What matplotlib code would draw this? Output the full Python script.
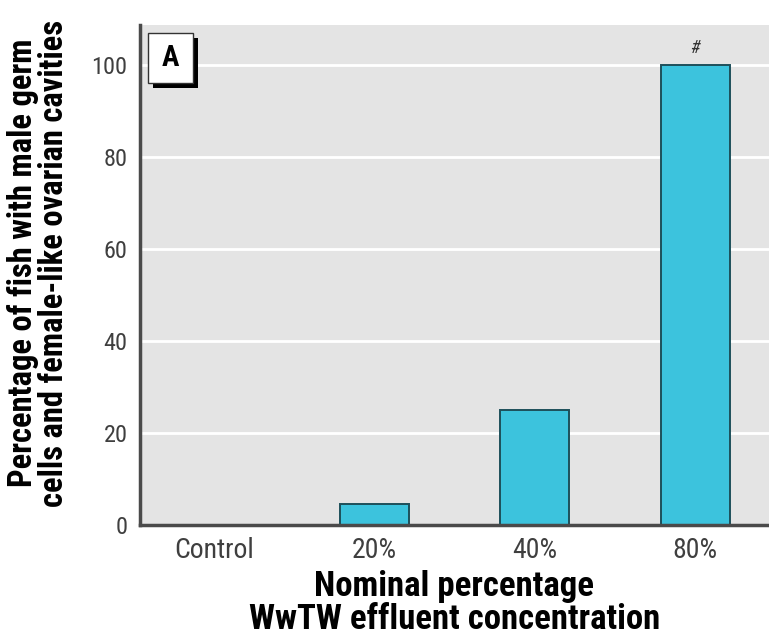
import matplotlib
matplotlib.use("Agg")
import matplotlib.pyplot as plt
from matplotlib.patches import Rectangle

groups = ["Control", "20%", "40%", "80%"]
percent_fish = [0, 4.5, 25, 100]
yticks = [0, 20, 40, 60, 80, 100]

plt.rcParams['font.family'] = ['Roboto Condensed', 'DejaVu Sans']

fig = plt.figure(figsize=(7.69, 6.4), dpi=100)
ax = fig.add_axes([0.182, 0.1797, 0.818, 0.781])
ax.set_facecolor("#e4e4e4")

x = list(range(len(groups)))
ax.bar(x, percent_fish, width=0.43, color="#3cc3dd", edgecolor="#1d4f5a",
       linewidth=1.4, zorder=2)

# significance mark over the highest dose
ax.text(3, percent_fish[3] + 1.8, "#", ha="center", va="bottom", fontsize=13,
        color="#333333", style="italic", zorder=4)

ax.set_xlim(-0.46, 3.46)
ax.set_ylim(0, 108.7)
ax.set_yticks(yticks)
ax.set_xticks(x)
ax.set_xticklabels(groups)
ax.tick_params(axis="both", length=0, labelcolor="#3f3f3f")
ax.tick_params(axis="x", pad=9, labelsize=20)
ax.tick_params(axis="y", pad=9, labelsize=17.5)
ax.yaxis.grid(True, color="white", linewidth=2, zorder=1)
ax.set_axisbelow(True)

for side in ["top", "right"]:
    ax.spines[side].set_visible(False)
for side in ["left", "bottom"]:
    ax.spines[side].set_color("#4a4a4a")
    ax.spines[side].set_linewidth(2.5)
    ax.spines[side].set_zorder(3)

ax.set_ylabel("Percentage of fish with male germ\ncells and female-like ovarian cavities",
              fontsize=23.5, fontweight="bold", linespacing=0.95)
ax.yaxis.set_label_coords(-0.112, 0.524)
ax.set_xlabel("Nominal percentage\nWwTW effluent concentration",
              fontsize=25, fontweight="bold", linespacing=0.98, labelpad=4)

# panel letter with drop shadow
ax.add_patch(Rectangle((0.0207, 0.874), 0.0715, 0.1, transform=ax.transAxes,
                       facecolor="black", edgecolor="none", zorder=5))
ax.add_patch(Rectangle((0.0127, 0.884), 0.0715, 0.1, transform=ax.transAxes,
                       facecolor="white", edgecolor="#333333", linewidth=1, zorder=6))
ax.text(0.0485, 0.934, "A", transform=ax.transAxes, ha="center", va="center",
        fontsize=21, fontweight="bold", zorder=7)

fig.savefig("out.png", dpi=100)
